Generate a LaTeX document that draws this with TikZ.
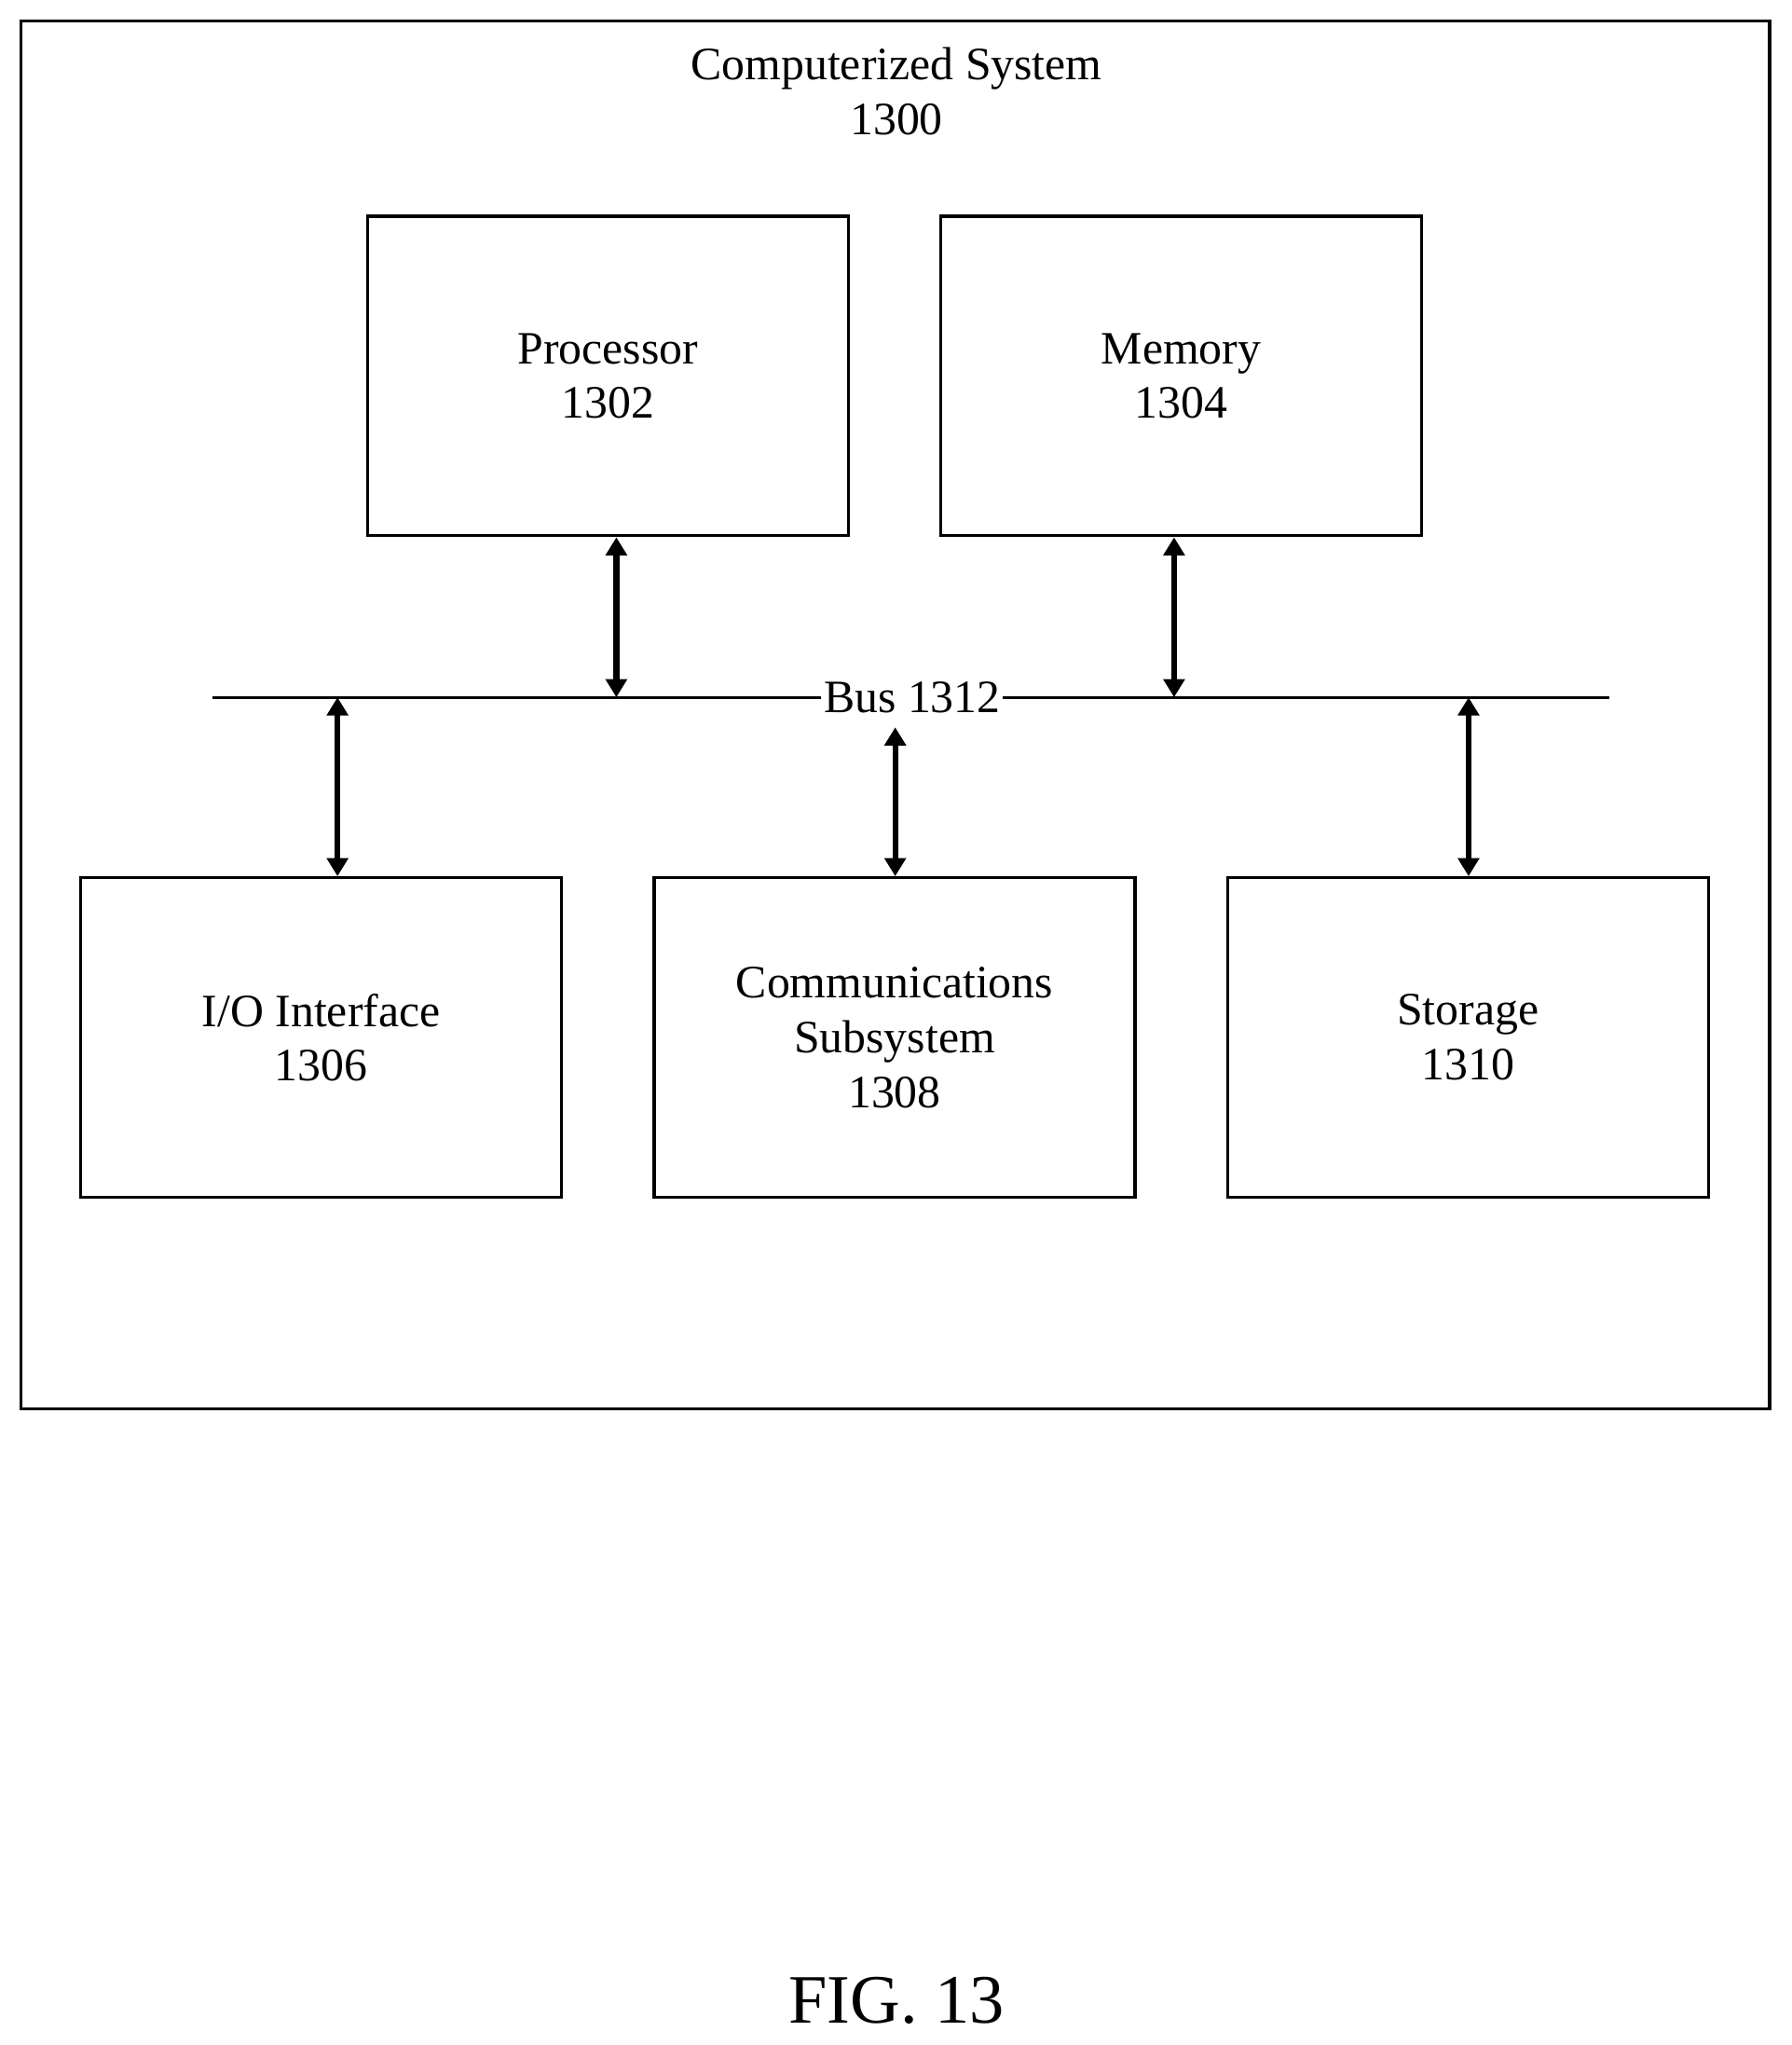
\documentclass[tikz,border=0pt]{standalone}
\usepackage{fontspec}
\setmainfont{Liberation Serif}
\usetikzlibrary{arrows.meta}
\begin{document}
\begin{tikzpicture}[x=0.5pt,y=-0.5pt,
 box/.style={draw,line width=1.2pt,minimum width=369*0.5pt,minimum height=245*0.5pt,align=center,font=\fontsize{17.8}{21}\selectfont,inner sep=0},
 arr/.style={line width=2.2pt,{Triangle[length=7pt,width=8pt]}-{Triangle[length=7pt,width=8pt]}}]
\useasboundingbox (0,0) rectangle (1375,1569);
\node[draw,line width=1.2pt,minimum width=1342*0.5pt,minimum height=1065*0.5pt,inner sep=0] (sys) at (687,548.5) {};
\node[align=center,font=\fontsize{17.8}{21}\selectfont] (title) at (688,70) {Computerized System\\1300};
\node[box] (proc) at (466.5,288.5) {Processor\\1302};
\node[box] (mem) at (906.5,288.5) {Memory\\1304};
\node[box] (io) at (246.5,796) {I/O Interface\\1306};
\node[box] (comm) at (686.5,796) {Communications\\Subsystem\\1308};
\node[box] (stor) at (1126.5,796) {Storage\\1310};
\coordinate (bl) at (163,535);
\coordinate (br) at (1235,535);
\draw[line width=1pt] (bl) -- (br);
\node[fill=white,inner sep=1pt,font=\fontsize{17.8}{21}\selectfont] (bus) at (700,535) {Bus 1312};
\coordinate (b1) at (473,535);
\coordinate (b2) at (901,535);
\coordinate (b3) at (259,535);
\coordinate (b4) at (687,558);
\coordinate (b5) at (1127,535);
\draw[arr] (proc.south -| b1) -- (b1);
\draw[arr] (mem.south -| b2) -- (b2);
\draw[arr] (b3) -- (io.north -| b3);
\draw[arr] (b4) -- (comm.north -| b4);
\draw[arr] (b5) -- (stor.north -| b5);
\node[font=\fontsize{26.6}{30}\selectfont] (fig) at (688,1535) {FIG. 13};
\end{tikzpicture}
\end{document}
